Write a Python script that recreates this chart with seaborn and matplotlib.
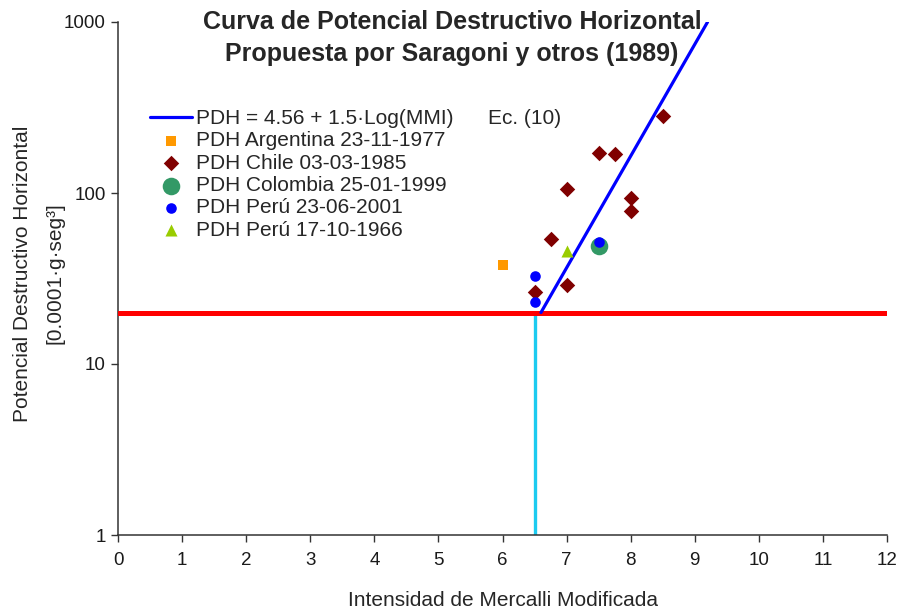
import matplotlib
matplotlib.use("Agg")
import matplotlib.pyplot as plt
import matplotlib.ticker as mticker
import seaborn as sns
import pandas as pd

# Saragoni et al. (1989) destructive-potential curve, read as two end points
curve_mmi = [6.6, 9.2]
curve_pdh = [20, 1000]

# threshold reference lines
ref_pdh = 20
ref_mmi = 6.5

# observed events
arg_mmi = [6.0]
arg_pdh = [38]

chile_mmi = [6.5, 7.0, 6.75, 7.0, 7.5, 7.75, 8.0, 8.0, 8.5]
chile_pdh = [26.5, 29, 54, 106, 172, 169, 93, 79, 282]

col_mmi = [7.5]
col_pdh = [49]

peru01_mmi = [6.5, 6.5, 7.5]
peru01_pdh = [32.5, 23, 51.5]

peru66_mmi = [7.0]
peru66_pdh = [46]

x_ticks = list(range(0, 13))
y_ticks = [1, 10, 100, 1000]

sns.set_theme(style="ticks")
plt.rcParams["font.family"] = ["Liberation Sans", "DejaVu Sans"]

fig = plt.figure(figsize=(8.99, 6.15), dpi=100)
ax = fig.add_axes([118 / 899, 1 - 535 / 615, (887 - 118) / 899, (535 - 22) / 615])

# reference lines
ax.vlines(ref_mmi, 1, ref_pdh, color="#1CCBF0", lw=2.4, zorder=2)
sns.lineplot(x=[0, 12], y=[ref_pdh, ref_pdh], color="#FF0000", lw=3.6,
             ax=ax, zorder=3, legend=False)

# fitted curve
sns.lineplot(x=curve_mmi, y=curve_pdh, color="#0000FF", lw=2.3, ax=ax,
             zorder=4, label="PDH = 4.56 + 1.5·Log(MMI)      Ec. (10)")

series = [
    (arg_mmi, arg_pdh, "s", 55, "#FF9900", "PDH Argentina 23-11-1977"),
    (chile_mmi, chile_pdh, "D", 62, "#800000", "PDH Chile 03-03-1985"),
    (col_mmi, col_pdh, "o", 160, "#339966", "PDH Colombia 25-01-1999"),
    (peru01_mmi, peru01_pdh, "o", 58, "#0000FF", "PDH Perú 23-06-2001"),
    (peru66_mmi, peru66_pdh, "^", 75, "#99CC00", "PDH Perú 17-10-1966"),
]
for xs, ys, mk, sz, colr, lab in series:
    df = pd.DataFrame({"mmi": xs, "pdh": ys})
    sns.scatterplot(data=df, x="mmi", y="pdh", marker=mk, s=sz, color=colr,
                    linewidth=0, ax=ax, zorder=5, label=lab)

ax.set_yscale("log")
ax.set_xlim(0, 12)
ax.set_ylim(1, 1000)
ax.set_xticks(x_ticks)
ax.set_yticks(y_ticks)
ax.yaxis.set_major_formatter(mticker.FuncFormatter(lambda v, p: f"{v:g}"))
ax.yaxis.set_minor_locator(mticker.NullLocator())
ax.tick_params(axis="both", labelsize=13.5, length=5, width=1, color="#333333",
               labelcolor="#1a1a1a")
ax.tick_params(axis="x", pad=7)
ax.tick_params(axis="y", pad=4)
sns.despine(ax=ax)
for sp in ("left", "bottom"):
    ax.spines[sp].set_color("#333333")
    ax.spines[sp].set_linewidth(1.1)

ax.set_xlabel("Intensidad de Mercalli Modificada", fontsize=15)
ax.xaxis.set_label_coords(0.5, -0.11)
ax.set_ylabel("Potencial Destructivo Horizontal\n[0.0001·g·seg³]", fontsize=15,
              linespacing=1.9)
ax.yaxis.set_label_coords(-0.07, 0.51)

fig.text(452 / 899, 1 - 38 / 615,
         "Curva de Potencial Destructivo Horizontal\nPropuesta por Saragoni y otros (1989)",
         ha="center", va="center", fontsize=18, fontweight="bold",
         linespacing=1.42)

leg = ax.legend(loc="upper left", bbox_to_anchor=(150 / 899, 1 - 109 / 615),
                bbox_transform=fig.transFigure, frameon=False, fontsize=15,
                handlelength=2.0, handletextpad=0.2, labelspacing=0.16,
                borderaxespad=0, borderpad=0)

fig.savefig("out.png", dpi=100)
